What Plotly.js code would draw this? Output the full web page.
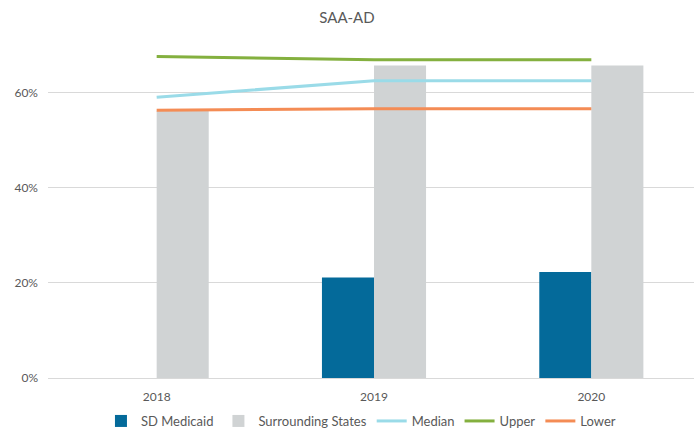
<!DOCTYPE html>
<html><head><meta charset="utf-8">
<script src="https://cdn.plot.ly/plotly-3.0.1.min.js"></script>
<style>html,body{margin:0;padding:0;background:#fff;overflow:hidden}#chart{width:700px;height:429px}</style>
</head><body><div id="chart"></div>
<script>
const years = ['2018', '2019', '2020'];
const sdMedicaid = [null, 0.211, 0.223];
const surroundingStates = [0.562, 0.657, 0.657];
const median = [0.590, 0.625, 0.625];
const upper = [0.676, 0.669, 0.669];
const lower = [0.563, 0.566, 0.566];

const font = {family: 'Lato, "Noto Sans", sans-serif', color: '#595959', size: 12};
const traces = [
  {type: 'bar', name: 'SD Medicaid', x: years, y: sdMedicaid, marker: {color: '#046A9A'}},
  {type: 'bar', name: 'Surrounding States', x: years, y: surroundingStates, marker: {color: '#D0D3D4'}},
  {type: 'scatter', mode: 'lines', name: 'Median', x: years, y: median, line: {color: '#9ADBE8', width: 3}},
  {type: 'scatter', mode: 'lines', name: 'Upper', x: years, y: upper, line: {color: '#84B03F', width: 3}},
  {type: 'scatter', mode: 'lines', name: 'Lower', x: years, y: lower, line: {color: '#F48C55', width: 3}}
];
const layout = {
  width: 700, height: 429,
  margin: {l: 48, r: 0, t: 45, b: 51, autoexpand: false},
  paper_bgcolor: '#fff', plot_bgcolor: '#fff',
  font: font,
  title: {text: 'SAA-AD', x: 347/700, xanchor: 'center', y: 1 - 18/429, yanchor: 'middle', font: {family: font.family, size: 15, color: '#595959'}},
  barmode: 'group', bargap: 0.521, bargroupgap: 0,
  xaxis: {type: 'category', showline: true, linecolor: '#D9D9D9', linewidth: 1, ticks: '', ticklabelstandoff: 8, showgrid: false, automargin: false, tickfont: {size: 12, color: '#595959'}},
  yaxis: {range: [0, 0.70], dtick: 0.2, tick0: 0, tickformat: '.0%', showgrid: true, gridcolor: '#D9D9D9', gridwidth: 1, zeroline: false, showline: false, ticks: '', ticklabelstandoff: 9, automargin: false, tickfont: {size: 12, color: '#595959'}},
  legend: {orientation: 'h', x: 336/700, xanchor: 'center', y: -(421 - 378) / 333, yanchor: 'middle', font: {size: 13, color: '#595959'}, traceorder: 'normal'},
  showlegend: true
};
Plotly.newPlot('chart', traces, layout, {staticPlot: true, displayModeBar: false});
</script></body></html>
